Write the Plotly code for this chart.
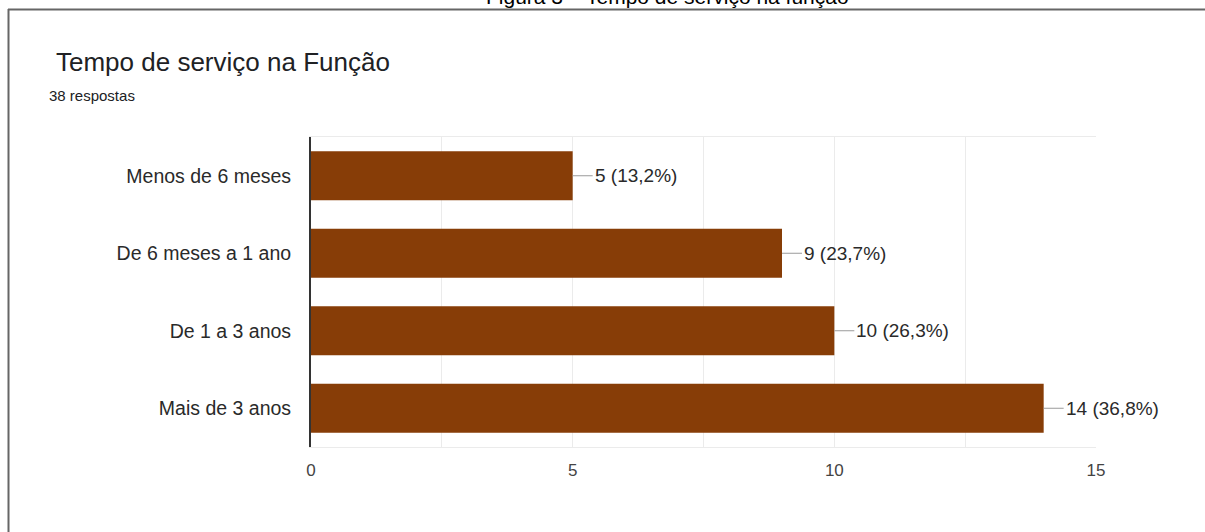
import plotly.graph_objects as go

categories = ["Menos de 6 meses", "De 6 meses a 1 ano", "De 1 a 3 anos", "Mais de 3 anos"]
counts = [5, 9, 10, 14]
percent_labels = ["13,2%", "23,7%", "26,3%", "36,8%"]
x_tickvals = [0, 2.5, 5, 7.5, 10, 12.5, 15]
x_ticktext = ["0", "", "5", "", "10", "", "15"]

W, H = 1205, 532
L, R, T, B = 311, 1205 - 1096, 137, 532 - 447
pw, ph = W - L - R, H - T - B

def px(xp):
    return (xp - L) / pw

def py(yp):
    return (H - B - yp) / ph

FONT = "Liberation Sans, Arial, sans-serif"

fig = go.Figure(go.Bar(
    x=counts, y=categories, orientation="h",
    marker=dict(color="#873D07", line=dict(width=0)),
    hoverinfo="skip",
))

annotations = []
for c, v, p in zip(categories, counts, percent_labels):
    annotations.append(dict(
        x=v, y=c, xref="x", yref="y", text=f"{v} ({p})",
        showarrow=True, arrowhead=0, arrowwidth=1, arrowcolor="#9a9a9a",
        ax=20, ay=0, xanchor="left", yanchor="middle",
        font=dict(family=FONT, size=19, color="#2a2a2a"),
    ))

annotations += [
    dict(x=px(54), y=py(62), xref="paper", yref="paper", xanchor="left", yanchor="middle",
         text="Tempo de serviço na Função", showarrow=False,
         font=dict(family=FONT, size=26, color="#202124")),
    dict(x=px(47), y=py(95), xref="paper", yref="paper", xanchor="left", yanchor="middle",
         text="38 respostas", showarrow=False,
         font=dict(family=FONT, size=15, color="#202124")),
    dict(x=px(667), y=py(10), xref="paper", yref="paper", xanchor="center", yanchor="bottom",
         text="Figura 3 – Tempo de serviço na função", showarrow=False,
         font=dict(family=FONT, size=21, color="#000000")),
]

shapes = [
    dict(type="line", xref="paper", yref="paper", x0=px(8), x1=px(1215), y0=py(9.5), y1=py(9.5),
         line=dict(color="#666666", width=2)),
    dict(type="line", xref="paper", yref="paper", x0=px(8.5), x1=px(8.5), y0=py(9), y1=py(540),
         line=dict(color="#666666", width=2)),
]

fig.update_layout(
    width=W, height=H,
    margin=dict(l=L, r=R, t=T, b=B, pad=0),
    paper_bgcolor="white", plot_bgcolor="white",
    bargap=0.37,
    showlegend=False,
    annotations=annotations,
    shapes=shapes,
    font=dict(family=FONT),
)
fig.update_xaxes(
    range=[0, 15], tickvals=x_tickvals, ticktext=x_ticktext,
    showgrid=True, gridcolor="#ebebeb", gridwidth=1,
    showline=True, mirror=True, linecolor="#ebebeb", linewidth=1,
    zeroline=False, ticks="", ticklabelstandoff=8,
    tickfont=dict(family=FONT, size=17, color="#444444"),
    fixedrange=True,
)
fig.update_yaxes(
    categoryorder="array", categoryarray=categories, autorange="reversed",
    showgrid=False, showline=True, linecolor="#333333", linewidth=2,
    ticks="", ticklabelstandoff=14,
    tickfont=dict(family=FONT, size=19.5, color="#2a2a2a"),
    fixedrange=True,
)

fig.write_html("out.html", config={"displayModeBar": False},
               post_script="document.body.style.margin='0';document.body.style.overflow='hidden';")
